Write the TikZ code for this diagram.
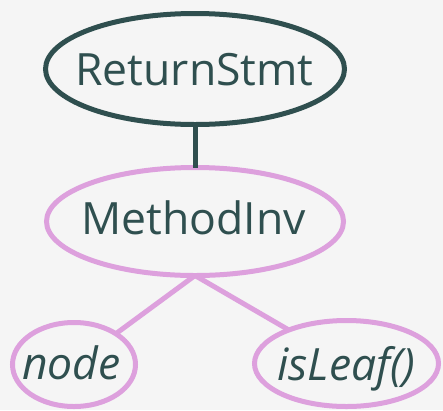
\documentclass[tikz,border=0pt]{standalone}
\usepackage{fontspec}
\setmainfont{Open Sans}
\usetikzlibrary{shapes.geometric}
\definecolor{bgc}{HTML}{F5F5F5}
\definecolor{dk}{HTML}{2F4F4F}
\definecolor{pl}{HTML}{DDA0DD}
\tikzset{
  ell/.style={ellipse, draw, line width=5pt, inner sep=0pt, outer sep=0pt},
  lbl/.style={anchor=base, text=dk, inner sep=0pt, font=\fontsize{44.5}{44.5}\selectfont},
  ilbl/.style={lbl, font=\fontsize{44.5}{44.5}\selectfont\itshape},
  conn/.style={line width=5pt},
}
\begin{document}
\begin{tikzpicture}[x=1pt,y=-1pt]
\fill[bgc] (0,0) rectangle (443,410);
\useasboundingbox (0,0) rectangle (443,410);
\node[ell, draw=dk, minimum width=299pt, minimum height=111pt] (rs) at (195,69) {};
\node[ell, draw=pl, minimum width=297pt, minimum height=108pt] (mi) at (195,221.5) {};
\node[ell, draw=pl, minimum width=123pt, minimum height=84pt] (nd) at (74,364.5) {};
\node[ell, draw=pl, minimum width=184pt, minimum height=86pt] (il) at (346.5,363.5) {};
\draw[conn, dk] (rs.south) -- (mi.north);
\draw[conn, pl] (mi.south) -- (nd);
\draw[conn, pl] (mi.south) -- (il);
\node[lbl] (trs) at (194.5,85) {ReturnStmt};
\node[lbl] (tmi) at (193.5,234) {MethodInv};
\node[ilbl] (tnd) at (71.5,379) {node};
\node[ilbl] (til) at (346.5,380) {isLeaf()};
\end{tikzpicture}
\end{document}
